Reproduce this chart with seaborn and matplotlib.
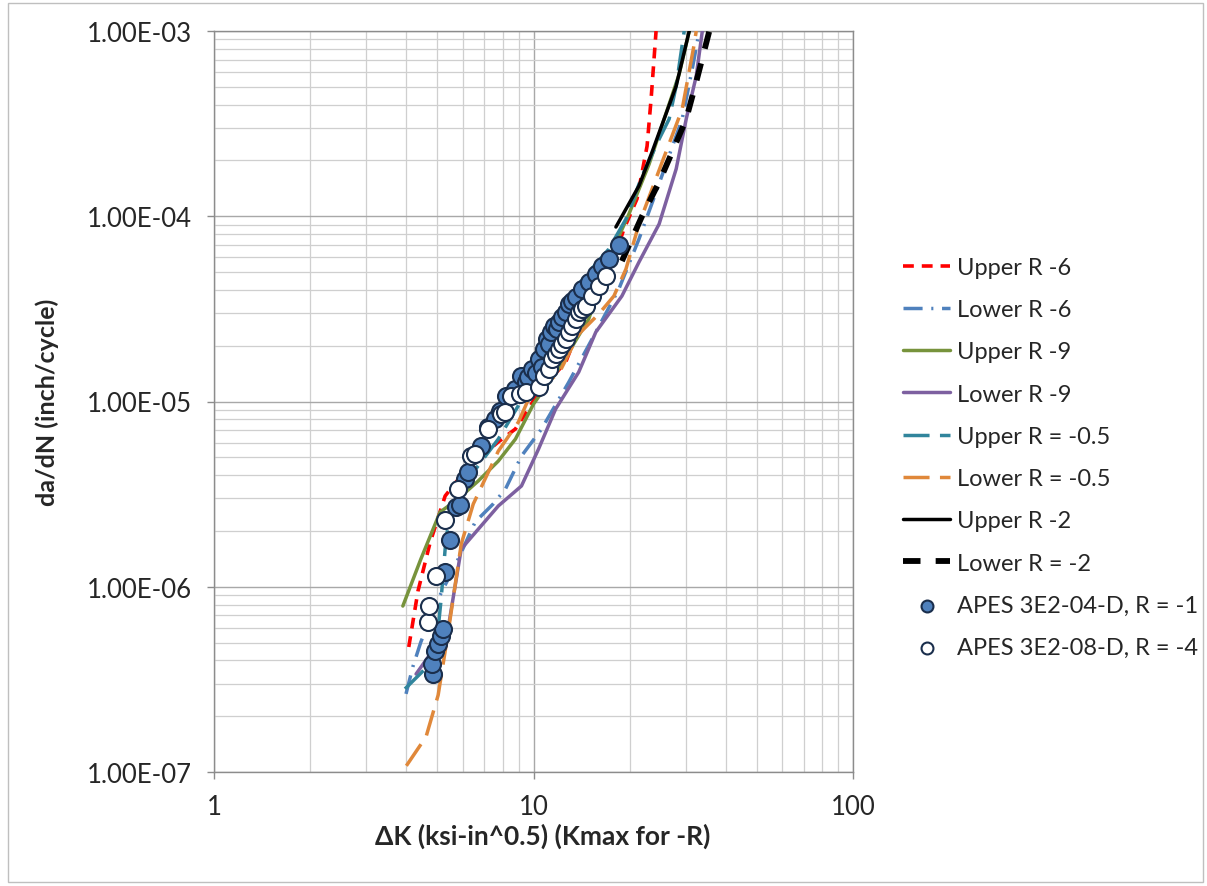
import numpy as np
import pandas as pd
import matplotlib
matplotlib.use("Agg")
import matplotlib.pyplot as plt
import seaborn as sns
from matplotlib.ticker import FixedLocator, NullFormatter, FuncFormatter, LogLocator
from matplotlib.patches import Rectangle

# ---------------- data ----------------
upper_r6_dk = [4.07, 4.35, 4.75, 5.29, 5.89, 6.71, 7.76, 8.78, 9.64, 10.37, 12.61, 13.85, 16.01, 17.59, 19.19, 21.08, 22.67, 23.34, 24.19]
upper_r6_da = [4.73e-7, 9.49e-7, 1.74e-6, 3.09e-6, 3.91e-6, 4.89e-6, 6.05e-6, 7.11e-6, 9.11e-6, 1.12e-5, 1.63e-5, 2.46e-5, 4.05e-5, 5.52e-5, 8.53e-5, 1.24e-4, 2.39e-4, 4.30e-4, 1.0e-3]

lower_r6_dk = [3.99, 4.19, 4.44, 5.03, 5.81, 6.57, 7.48, 8.17, 9.17, 10.60, 12.89, 15.67, 18.50, 21.39, 24.19, 29.20, 31.39, 33.03]
lower_r6_da = [2.64e-7, 3.69e-7, 5.03e-7, 8.59e-7, 1.41e-6, 2.24e-6, 2.80e-6, 3.37e-6, 5.08e-6, 7.11e-6, 1.27e-5, 2.37e-5, 4.05e-5, 7.54e-5, 1.35e-4, 3.35e-4, 6.23e-4, 1.0e-3]

upper_r9_dk = [3.90, 4.44, 5.10, 5.81, 6.71, 7.76, 8.78, 10.0, 11.99, 14.89, 17.46, 19.90, 23.0, 25.64, 28.58, 30.72]
upper_r9_da = [7.87e-7, 1.41e-6, 2.53e-6, 2.98e-6, 3.72e-6, 4.77e-6, 6.27e-6, 9.69e-6, 1.50e-5, 2.79e-5, 6.25e-5, 1.03e-4, 1.91e-4, 3.35e-4, 5.86e-4, 1.0e-3]

lower_r9_dk = [4.29, 5.40, 5.94, 7.76, 9.17, 10.37, 11.73, 13.85, 15.67, 18.91, 21.39, 24.73, 27.96, 30.06, 32.31, 33.76]
lower_r9_da = [3.38e-7, 5.91e-7, 1.60e-6, 2.73e-6, 3.50e-6, 5.54e-6, 9.11e-6, 1.44e-5, 2.37e-5, 3.71e-5, 5.66e-5, 9.08e-5, 1.80e-4, 3.35e-4, 5.71e-4, 1.0e-3]

upper_r05_dk = [3.96, 4.92, 5.14, 5.29, 5.48, 6.25, 7.76, 9.64, 11.99, 13.85, 17.21, 19.47, 21.86, 24.73, 26.58, 27.96, 29.63]
upper_r05_da = [2.81e-7, 4.07e-7, 8.59e-7, 1.60e-6, 2.63e-6, 3.82e-6, 6.27e-6, 1.17e-5, 2.97e-5, 4.31e-5, 6.65e-5, 9.66e-5, 1.65e-4, 2.61e-4, 3.35e-4, 5.05e-4, 1.0e-3]

lower_r05_dk = [4.00, 4.61, 5.03, 5.40, 5.94, 6.48, 7.76, 8.97, 9.86, 11.99, 13.85, 16.01, 17.85, 19.47, 21.39, 25.27, 29.20, 31.85, 32.31]
lower_r05_da = [1.08e-7, 1.55e-7, 2.6e-7, 5.6e-7, 1.70e-6, 2.80e-6, 5.40e-6, 7.75e-6, 1.12e-5, 1.41e-5, 2.31e-5, 2.97e-5, 3.71e-5, 5.19e-5, 9.08e-5, 1.96e-4, 3.79e-4, 8.51e-4, 1.0e-3]

upper_r2_dk = [18.11, 21.39, 23.50, 27.96, 30.72]
upper_r2_da = [8.75e-5, 1.46e-4, 2.22e-4, 5.05e-4, 1.0e-3]

lower_r2_dk = [18.91, 21.86, 24.73, 27.16, 30.06, 32.31, 35.51]
lower_r2_da = [5.73e-5, 1.0e-4, 1.53e-4, 2.22e-4, 3.35e-4, 5.31e-4, 1.0e-3]

apes04_dk = [4.85, 4.81, 4.92, 5.03, 5.14, 5.21, 5.29, 5.48, 5.73, 5.89, 6.11, 6.25, 6.86, 7.22, 7.60, 7.88, 8.23, 8.78, 9.17, 9.44,
             9.64, 9.86, 10.15, 10.37, 10.60, 10.75, 10.99, 11.15, 11.31, 11.56, 11.81, 11.99, 12.25, 12.61, 12.89, 13.17, 13.56,
             14.15, 14.89, 15.67, 16.36, 17.21, 18.50]
apes04_da = [3.38e-7, 3.83e-7, 4.50e-7, 4.91e-7, 5.42e-7, 5.91e-7, 1.20e-6, 1.79e-6, 2.69e-6, 2.76e-6, 3.82e-6, 4.16e-6, 5.75e-6,
             7.28e-6, 8.04e-6, 8.89e-6, 1.07e-5, 1.17e-5, 1.37e-5, 1.27e-5, 1.36e-5, 1.50e-5, 1.43e-5, 1.70e-5, 1.54e-5, 1.92e-5,
             2.18e-5, 2.04e-5, 2.37e-5, 2.56e-5, 2.46e-5, 2.69e-5, 2.86e-5, 3.04e-5, 3.36e-5, 3.49e-5, 3.66e-5, 4.05e-5, 4.42e-5,
             4.88e-5, 5.39e-5, 5.88e-5, 7.00e-5]

apes08_dk = [4.67, 4.71, 4.95, 5.29, 5.81, 6.38, 6.57, 7.22, 7.93, 8.17, 8.53, 9.10, 9.44, 10.37, 10.75, 11.15, 11.39, 11.73,
             11.99, 12.25, 12.61, 12.89, 13.17, 13.56, 13.85, 14.15, 14.58, 15.22, 16.01, 16.84]
apes08_da = [6.45e-7, 7.87e-7, 1.14e-6, 2.29e-6, 3.37e-6, 5.08e-6, 5.21e-6, 7.11e-6, 8.56e-6, 8.77e-6, 1.07e-5, 1.10e-5, 1.12e-5,
             1.20e-5, 1.37e-5, 1.50e-5, 1.70e-5, 1.80e-5, 1.92e-5, 2.04e-5, 2.18e-5, 2.37e-5, 2.56e-5, 2.79e-5, 3.04e-5, 3.16e-5,
             3.28e-5, 3.71e-5, 4.20e-5, 4.76e-5]

line_labels = ["Upper R -6", "Lower R -6", "Upper R -9", "Lower R -9",
               "Upper R = -0.5", "Lower R = -0.5", "Upper R -2", "Lower R = -2"]
point_labels = ["APES 3E2-04-D, R = -1", "APES 3E2-08-D, R = -4"]
y_ticks = [1e-7, 1e-6, 1e-5, 1e-4, 1e-3]
x_ticks = [1, 10, 100]

# ---------------- style ----------------
sns.set_style("white")
plt.rcParams['font.family'] = ['Lato', 'DejaVu Sans']

fig = plt.figure(figsize=(12.07, 8.87), dpi=100)
ax = fig.add_axes([214 / 1207, 1 - 773 / 887, (853 - 214) / 1207, (773 - 32) / 887])
ax.set_xscale('log')
ax.set_yscale('log')

line_series = [
    (upper_r6_dk, upper_r6_da, '#FF0000', 2.6, (0, (3.0, 2.2))),
    (lower_r6_dk, lower_r6_da, '#4F81BD', 2.5, (0, (5.5, 2.5, 0.6, 2.5))),
    (upper_r9_dk, upper_r9_da, '#77933C', 2.5, '-'),
    (lower_r9_dk, lower_r9_da, '#7D60A0', 2.5, '-'),
    (upper_r05_dk, upper_r05_da, '#31859C', 2.5, (0, (7.5, 3.0))),
    (lower_r05_dk, lower_r05_da, '#E0883A', 2.5, (0, (7.5, 3.0))),
    (upper_r2_dk, upper_r2_da, '#000000', 2.5, '-'),
    (lower_r2_dk, lower_r2_da, '#000000', 4.2, (0, (3.0, 2.6))),
]

for (dk, da, col, lw, ls), lab in zip(line_series, line_labels):
    sns.lineplot(x=dk, y=da, ax=ax, color=col, linewidth=lw, linestyle=ls,
                 label=lab, sort=False, estimator=None, zorder=3)

sns.scatterplot(x=apes04_dk, y=apes04_da, ax=ax, s=150, color='#4F81BD',
                edgecolor='#1A2E4C', linewidth=1.5, label=point_labels[0], zorder=4)
sns.scatterplot(x=apes08_dk, y=apes08_da, ax=ax, s=150, color='white',
                edgecolor='#1A2E4C', linewidth=1.5, label=point_labels[1], zorder=5)

# ---------------- axes ----------------
ax.set_xlim(1, 100)
ax.set_ylim(1e-7, 1e-3)
ax.xaxis.set_major_locator(FixedLocator(x_ticks))
ax.xaxis.set_major_formatter(FuncFormatter(lambda v, p: f"{v:g}"))
ax.xaxis.set_minor_locator(LogLocator(base=10, subs=np.arange(2, 10)))
ax.xaxis.set_minor_formatter(NullFormatter())
ax.yaxis.set_major_locator(FixedLocator(y_ticks))
ax.yaxis.set_major_formatter(FuncFormatter(lambda v, p: f"{v:.2E}"))
ax.yaxis.set_minor_locator(LogLocator(base=10, subs=np.arange(2, 10)))
ax.yaxis.set_minor_formatter(NullFormatter())

ax.grid(which='major', color='#A8A8A8', linewidth=1.0, zorder=0)
ax.grid(which='minor', color='#CFCFCF', linewidth=0.9, zorder=0)
ax.set_axisbelow(True)
for s in ax.spines.values():
    s.set_color('#8C8C8C')
    s.set_linewidth(1.0)

ax.tick_params(which='major', direction='out', length=5, width=1, color='#8C8C8C',
               labelsize=18.5, left=True, bottom=True)
ax.tick_params(axis='y', which='major', pad=11)
ax.tick_params(axis='x', which='major', pad=11)
ax.tick_params(which='minor', length=0)

ax.set_xlabel("ΔK (ksi-in^0.5) (Kmax for -R)", fontsize=19, fontweight='bold', labelpad=0)
ax.xaxis.set_label_coords(0.515, -0.068)
ax.set_ylabel("da/dN (inch/cycle)", fontsize=18, fontweight='bold')
ax.yaxis.set_label_coords(-0.243, 0.5)

# ---------------- legend ----------------
handles, labels = ax.get_legend_handles_labels()
leg = ax.legend(handles, labels, loc='center left', bbox_to_anchor=(903 / 1207, 1 - 458.5 / 887),
                bbox_transform=fig.transFigure, frameon=False, fontsize=17,
                handlelength=2.0, handletextpad=0.27, labelspacing=0.9,
                borderpad=0, borderaxespad=0, markerscale=0.7)

# outer chart border
fig.patches.append(Rectangle((8 / 1207, 4 / 887), 1 - 12 / 1207, 1 - 8 / 887, transform=fig.transFigure,
                             fill=False, edgecolor='#BFBFBF', linewidth=1.0))

fig.savefig("out.png", dpi=100)
